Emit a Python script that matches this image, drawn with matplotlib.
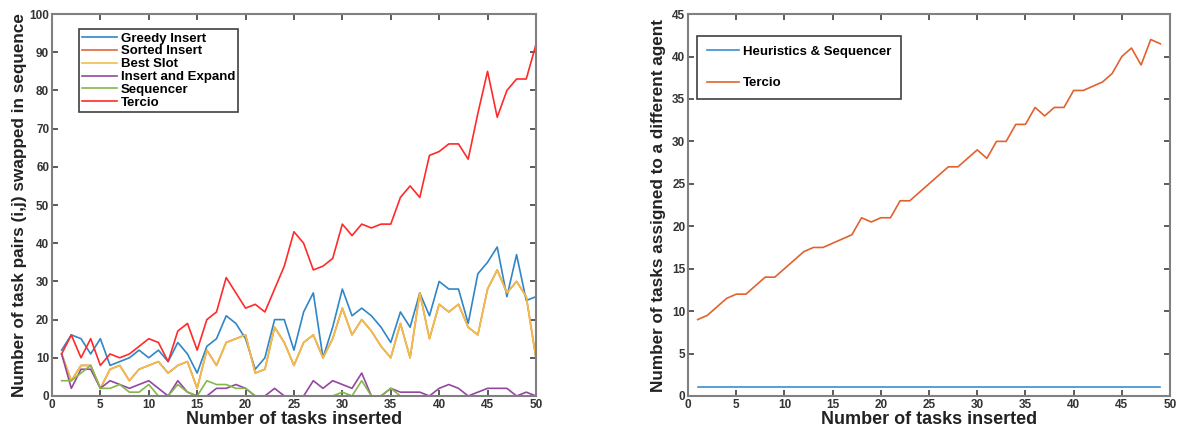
import matplotlib
matplotlib.use("Agg")
import matplotlib.pyplot as plt

# data (tasks 1..50)
tasks = list(range(1, 51))

greedy_insert = [12, 16, 15, 11, 15, 8, 9, 10, 12, 10,
                 12, 9, 14, 11, 6, 13, 15, 21, 19, 15,
                 7, 10, 20, 20, 12, 22, 27, 10, 18, 28,
                 21, 23, 21, 18, 14, 22, 18, 27, 21, 30,
                 28, 28, 19, 32, 35, 39, 26, 37, 25, 26]
best_slot = [11, 4, 8, 8, 2, 7, 8, 4, 7, 8,
             9, 6, 8, 9, 2, 12, 8, 14, 15, 16,
             6, 7, 18, 14, 8, 14, 16, 10, 15, 23,
             16, 20, 17, 13, 10, 19, 10, 27, 15, 24,
             22, 24, 18, 16, 28, 33, 27, 30, 26, 10]
# sorted insert is hidden under best slot in the reference
sorted_insert = list(best_slot)
insert_expand = [11, 2, 7, 7, 2, 4, 3, 2, 3, 4,
                 2, 0, 4, 1, 0, 0, 2, 2, 3, 2,
                 0, 0, 2, 0, 0, 0, 4, 2, 4, 3,
                 2, 6, 0, 0, 2, 1, 1, 1, 0, 2,
                 3, 2, 0, 1, 2, 2, 2, 0, 1, 0]
sequencer = [4, 4, 6, 8, 2, 2, 3, 1, 1, 3,
             0, 0, 3, 1, 0, 4, 3, 3, 2, 2,
             0, 0, 0, 0, 0, 0, 0, 0, 0, 1,
             0, 4, 0, 0, 2, 0, 0, 0, 0, 0,
             0, 0, 0, 0, 0, 0, 0, 0, 0, 0]
tercio_swaps = [11, 16, 10, 15, 8, 11, 10, 11, 13, 15,
                14, 9, 17, 19, 12, 20, 22, 31, 27, 23,
                24, 22, 28, 34, 43, 40, 33, 34, 36, 45,
                42, 45, 44, 45, 45, 52, 55, 52, 63, 64,
                66, 66, 62, 74, 85, 73, 80, 83, 83, 92]

# second panel (tasks 1..49)
tasks_b = list(range(1, 50))
heuristics_seq = [1] * 49
tercio_agents = [9, 9.5, 10.5, 11.5, 12, 12, 13, 14, 14, 15,
                 16, 17, 17.5, 17.5, 18, 18.5, 19, 21, 20.5, 21,
                 21, 23, 23, 24, 25, 26, 27, 27, 28, 29,
                 28, 30, 30, 32, 32, 34, 33, 34, 34, 36,
                 36, 36.5, 37, 38, 40, 41, 39, 42, 41.5]

plt.rcParams['font.family'] = ['Liberation Sans', 'DejaVu Sans']
plt.rcParams['font.weight'] = 'bold'

SPINE = '#808080'
TICKC = '#333333'


def style_axes(ax):
    for s in ax.spines.values():
        s.set_color(SPINE)
        s.set_linewidth(1.5)
    ax.tick_params(direction='in', top=True, right=True, length=4,
                   width=1.2, color='#404040', labelsize=8.5,
                   labelcolor=TICKC, pad=2)
    for lab in ax.get_xticklabels() + ax.get_yticklabels():
        lab.set_fontweight('bold')


fig = plt.figure(figsize=(11.81, 4.33), dpi=100)

ax1 = fig.add_axes([0.044, 0.0855, 0.4098, 0.882])
lw = 1.2
ax1.plot(tasks, greedy_insert, color='#2f86c8', lw=lw, label='Greedy Insert')
ax1.plot(tasks, sorted_insert, color='#e0683a', lw=lw, label='Sorted Insert')
ax1.plot(tasks, best_slot, color='#f0bf4a', lw=lw, label='Best Slot')
ax1.plot(tasks, insert_expand, color='#9447a0', lw=lw, label='Insert and Expand')
ax1.plot(tasks, sequencer, color='#85b84a', lw=lw, label='Sequencer')
ax1.plot(tasks, tercio_swaps, color='#ff2a2a', lw=lw, label='Tercio')
ax1.set_xlim(0, 50)
ax1.set_ylim(0, 100)
ax1.set_xticks(range(0, 51, 5))
ax1.set_yticks(range(0, 101, 10))
style_axes(ax1)
ax1.set_xlabel('Number of tasks inserted', fontsize=13, fontweight='bold',
               labelpad=0, color='#222222')
ax1.set_ylabel('Number of task pairs (i,j) swapped in sequence', fontsize=12.3,
               fontweight='bold', labelpad=2, color='#222222')
leg1 = ax1.legend(loc='upper left', bbox_to_anchor=(0.056, 0.961),
                  borderaxespad=0,
                  prop={'weight': 'bold', 'size': 9.5}, labelspacing=0.05,
                  handlelength=2.6, handletextpad=0.3, borderpad=0.25,
                  fancybox=False, framealpha=1, edgecolor='#404040')
leg1.get_frame().set_linewidth(1.2)

ax2 = fig.add_axes([0.5826, 0.0855, 0.4081, 0.882])
ax2.plot(tasks_b, heuristics_seq, color='#3b8fd0', lw=lw,
         label='Heuristics & Sequencer')
ax2.plot(tasks_b, tercio_agents, color='#e2622e', lw=lw, label='Tercio')
ax2.set_xlim(0, 50)
ax2.set_ylim(0, 45)
ax2.set_xticks(range(0, 51, 5))
ax2.set_yticks(range(0, 46, 5))
style_axes(ax2)
ax2.set_xlabel('Number of tasks inserted', fontsize=13, fontweight='bold',
               labelpad=0, color='#222222')
ax2.set_ylabel('Number of tasks assigned to a different agent', fontsize=12.3,
               fontweight='bold', labelpad=4, color='#222222')
leg2 = ax2.legend(loc='upper left', bbox_to_anchor=(0.019, 0.943),
                  borderaxespad=0,
                  prop={'weight': 'bold', 'size': 9.5}, labelspacing=1.45,
                  handlelength=2.4, handletextpad=0.3, borderpad=0.75,
                  fancybox=False, framealpha=1, edgecolor='#404040')
leg2.get_frame().set_linewidth(1.2)

fig.savefig('out.png', dpi=100)
